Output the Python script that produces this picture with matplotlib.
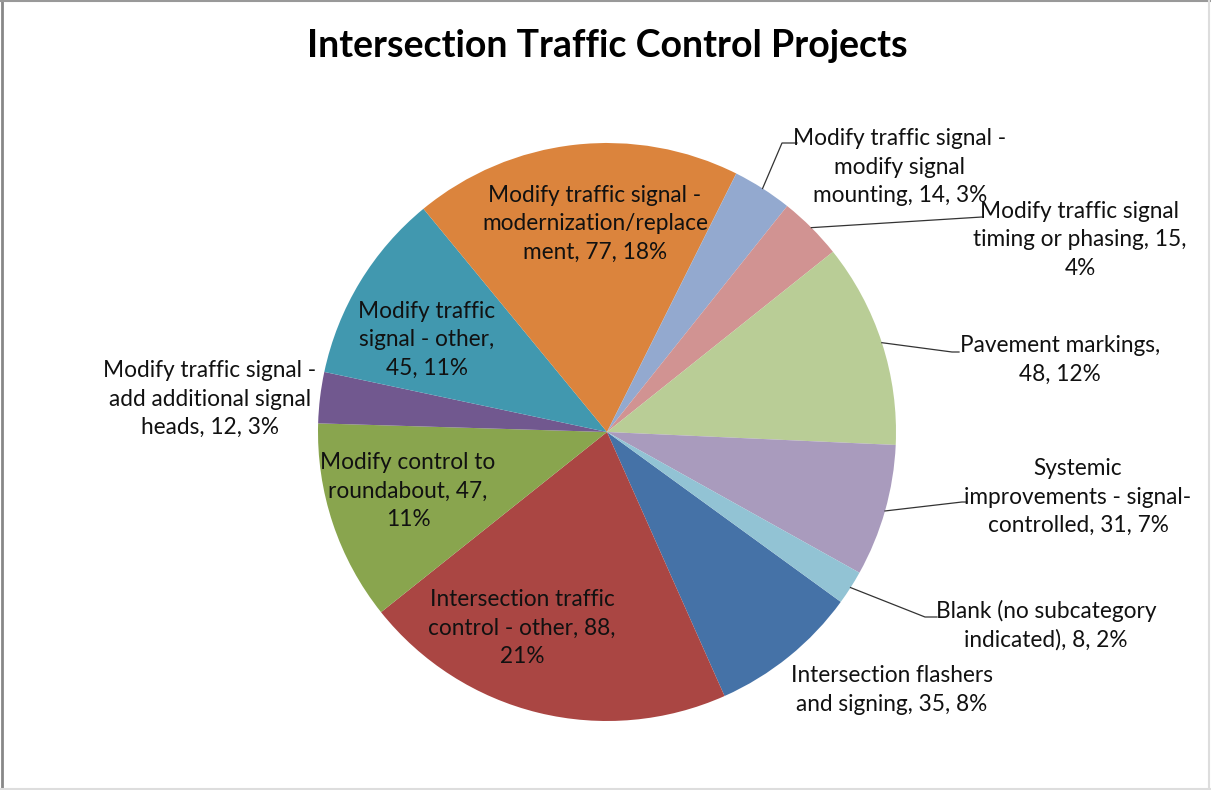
import numpy as np
import matplotlib
matplotlib.use("Agg")
import matplotlib.pyplot as plt
from matplotlib.lines import Line2D

W, H = 1211, 790

# slices in Excel order (clockwise, first slice = flashers)
categories = [
    "Intersection flashers and signing",
    "Intersection traffic control - other",
    "Modify control to roundabout",
    "Modify traffic signal - add additional signal heads",
    "Modify traffic signal - other",
    "Modify traffic signal - modernization/replacement",
    "Modify traffic signal - modify signal mounting",
    "Modify traffic signal timing or phasing",
    "Pavement markings",
    "Systemic improvements - signal-controlled",
    "Blank (no subcategory indicated)",
]
values = [35, 88, 47, 12, 45, 77, 14, 15, 48, 31, 8]
label_texts = [
    "Intersection flashers\nand signing, 35, 8%",
    "Intersection traffic\ncontrol - other, 88,\n21%",
    "Modify control to\nroundabout, 47,\n11%",
    "Modify traffic signal -\nadd additional signal\nheads, 12, 3%",
    "Modify traffic\nsignal - other,\n45, 11%",
    "Modify traffic signal -\nmodernization/replace\nment, 77, 18%",
    "Modify traffic signal -\nmodify signal\nmounting, 14, 3%",
    "Modify traffic signal\ntiming or phasing, 15,\n4%",
    "Pavement markings,\n48, 12%",
    "Systemic\nimprovements - signal-\ncontrolled, 31, 7%",
    "Blank (no subcategory\nindicated), 8, 2%",
]
colors = ["#4572A7", "#AA4643", "#89A54E", "#71588F", "#4198AF", "#DB843D",
          "#93A9CF", "#D19392", "#B9CD96", "#A99BBD", "#92C3D4"]
title = "Intersection Traffic Control Projects"

# layout, image pixel coordinates (y down)
center = (607, 432)
radius = 289
first_slice_angle = 126  # degrees clockwise from 12 o'clock
label_xy = [(892, 690), (522, 628), (408, 491), (210, 399), (427, 340),
            (595, 224), (900, 167), (1080, 240), (1060, 360), (1078, 497),
            (1046, 625)]
# leader line points on the label side (pie end is computed from the wedge)
leaders = {
    6: [(782, 143), (797, 143)],
    7: [(982, 217)],
    8: [(952, 352), (959, 352)],
    9: [(962, 502), (967, 502)],
    10: [(925, 617), (937, 617)],
}

plt.rcParams["font.family"] = ["Lato", "DejaVu Sans"]

fig = plt.figure(figsize=(W / 100, H / 100), dpi=100)
ax = fig.add_axes([0, 0, 1, 1])

wedges, _ = ax.pie(values, colors=colors, startangle=first_slice_angle - 90,
                   counterclock=True, center=center, radius=radius,
                   wedgeprops=dict(linewidth=0))
ax.set_xlim(0, W)
ax.set_ylim(H, 0)
ax.set_aspect("auto")
ax.axis("off")

for i, (txt, (x, y)) in enumerate(zip(label_texts, label_xy)):
    ax.text(x, y, txt, ha="center", va="center", multialignment="center",
            fontsize=16.3, color="#111111", linespacing=1.42)

for i, pts in leaders.items():
    w = wedges[i]
    mid = np.deg2rad((w.theta1 + w.theta2) / 2)
    px = center[0] + radius * np.cos(mid)
    py = center[1] + radius * np.sin(mid)
    xs = [px] + [p[0] for p in pts]
    ys = [py] + [p[1] for p in pts]
    ax.plot(xs, ys, color="#333333", lw=0.9)

ax.text(607, 46, title, ha="center", va="center", fontsize=27,
        fontweight="bold", color="black")

# chart area border
fig.add_artist(Line2D([0.002, 0.002], [0, 1], color="#888888", lw=2))
fig.add_artist(Line2D([0, 1], [0.999, 0.999], color="#999999", lw=1.5))
fig.add_artist(Line2D([0.9985, 0.9985], [0, 1], color="#dddddd", lw=1.5))
fig.add_artist(Line2D([0, 1], [0.001, 0.001], color="#dddddd", lw=1.5))

fig.savefig("out.png", dpi=100, facecolor="white")
